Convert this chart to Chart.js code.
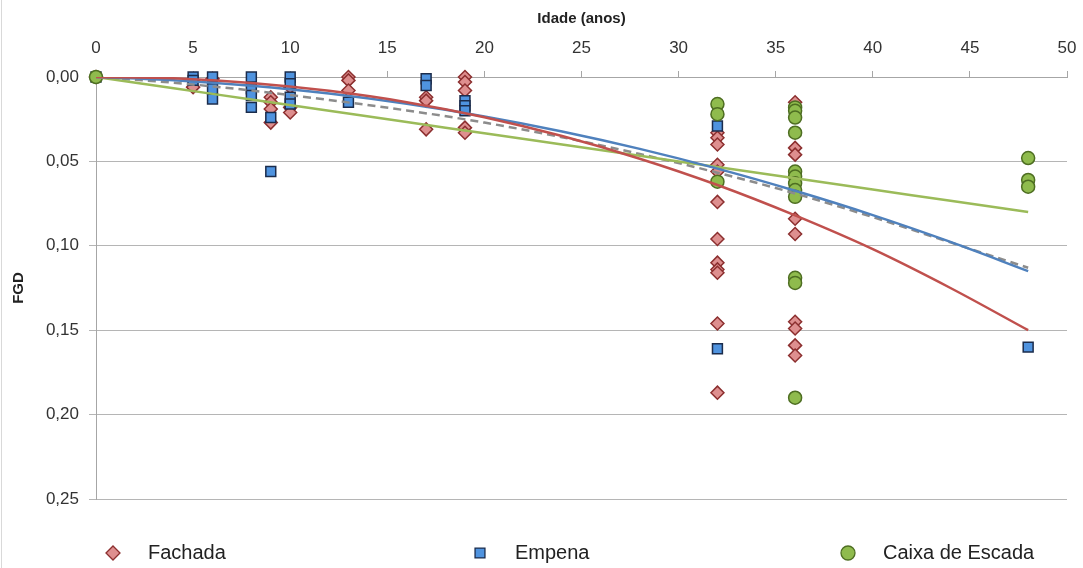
<!DOCTYPE html>
<html>
<head>
<meta charset="utf-8">
<script src="https://cdn.jsdelivr.net/npm/chart.js@4.4.0/dist/chart.umd.min.js"></script>
<style>
html, body { margin: 0; padding: 0; background: #fff; }
#caixa { position: relative; width: 1083px; height: 568px; }
</style>
</head>
<body>
<div id="caixa"><canvas id="grafico" width="1083" height="568"></canvas></div>
<script>
// pontos medidos (idade em anos, FGD)
var fachadaIdade = [0, 5, 5, 6, 9, 9, 9, 9, 10, 10, 10, 13, 13, 13, 17, 17, 17, 19, 19, 19, 19, 19,
  32, 32, 32, 32, 32, 32, 32, 32, 32, 32, 32, 32,
  36, 36, 36, 36, 36, 36, 36, 36, 36]
var fachadaFGD = [0, 0.002, 0.006, 0.001, 0.012, 0.015, 0.019, 0.027, 0.006, 0.018, 0.021, 0, 0.002, 0.008, 0.012, 0.014, 0.031, 0, 0.003, 0.008, 0.030, 0.033,
  0.033, 0.036, 0.040, 0.052, 0.056, 0.074, 0.096, 0.110, 0.114, 0.116, 0.146, 0.187,
  0.015, 0.042, 0.046, 0.084, 0.093, 0.145, 0.149, 0.159, 0.165]

var empenaIdade = [0, 5, 5, 6, 6, 6, 8, 8, 8, 8, 9, 9, 10, 10, 10, 10, 13, 17, 17, 19, 19, 19, 32, 32, 48]
var empenaFGD = [0, 0, 0.002, 0, 0.007, 0.013, 0, 0.007, 0.011, 0.018, 0.024, 0.056, 0, 0.004, 0.012, 0.016, 0.015, 0.001, 0.005, 0.014, 0.017, 0.020, 0.029, 0.161, 0.160]

var caixaIdade = [0, 32, 32, 32, 36, 36, 36, 36, 36, 36, 36, 36, 36, 36, 36, 36, 48, 48, 48]
var caixaFGD = [0, 0.016, 0.022, 0.062, 0.018, 0.020, 0.024, 0.033, 0.056, 0.059, 0.063, 0.067, 0.071, 0.119, 0.122, 0.190, 0.048, 0.061, 0.065]

// linhas de tendencia
var tendIdade = [0, 4, 8, 12, 16, 20, 24, 28, 32, 36, 40, 44, 48]
var tendFachada = [0, 0.0008, 0.0035, 0.0082, 0.0149, 0.0238, 0.035, 0.0484, 0.064, 0.082, 0.102, 0.125, 0.150]
var tendEmpena = [0, 0.0019, 0.0052, 0.0098, 0.0159, 0.0234, 0.0323, 0.0426, 0.0543, 0.0674, 0.0818, 0.0977, 0.115]
var tendCaixa = [0, 0.0067, 0.0133, 0.020, 0.0267, 0.0333, 0.040, 0.0467, 0.0533, 0.060, 0.0667, 0.0733, 0.080]
var tendGeral = [0, 0.0034, 0.008, 0.0136, 0.0198, 0.027, 0.0357, 0.0456, 0.0567, 0.069, 0.083, 0.098, 0.113]

var eixoX = [0, 5, 10, 15, 20, 25, 30, 35, 40, 45, 50]
var eixoY = [0, 0.05, 0.10, 0.15, 0.20, 0.25]

var fonte = '"Liberation Sans", "DejaVu Sans", sans-serif'

function pares(xs, ys) {
  return xs.map(function (x, i) { return { x: x, y: ys[i] } })
}

function serieTend(ys, cor, tracejado) {
  return {
    type: 'line',
    data: pares(tendIdade, ys),
    borderColor: cor,
    borderWidth: 2.5,
    borderDash: tracejado ? [8, 5] : [],
    pointRadius: 0,
    fill: false,
    showLine: true,
    cubicInterpolationMode: 'monotone',
    order: 0
  }
}

var legendaBaixo = {
  id: 'legendaBaixo',
  beforeDraw: function (chart) {
    var ctx = chart.ctx
    ctx.save()
    ctx.strokeStyle = '#d9d9d9'
    ctx.lineWidth = 1
    ctx.beginPath()
    ctx.moveTo(1.5, 0)
    ctx.lineTo(1.5, chart.height)
    ctx.stroke()
    ctx.restore()
  },
  afterDraw: function (chart) {
    var ctx = chart.ctx
    var posX = [113, 480, 848]
    var y = 553
    ctx.save()
    ctx.font = '20px ' + fonte
    ctx.textBaseline = 'middle'
    ctx.textAlign = 'left'
    for (var i = 0; i < 3; i++) {
      var ds = chart.data.datasets[i]
      ctx.fillStyle = ds.backgroundColor
      ctx.strokeStyle = ds.borderColor
      ctx.lineWidth = 1.3
      Chart.helpers.drawPoint(ctx, { pointStyle: ds.pointStyle, radius: 7, borderWidth: 1.3, rotation: 0 }, posX[i], y)
      ctx.fillStyle = '#222'
      ctx.fillText(ds.label, posX[i] + 35, y)
    }
    ctx.restore()
  }
}

new Chart(document.getElementById('grafico'), {
  type: 'scatter',
  data: {
    datasets: [
      {
        label: 'Fachada',
        data: pares(fachadaIdade, fachadaFGD),
        pointStyle: 'rectRot',
        pointRadius: 6.5,
        backgroundColor: '#de8f8f',
        borderColor: '#8c2f2f',
        borderWidth: 1.5,
        clip: false,
        order: 3
      },
      {
        label: 'Empena',
        data: pares(empenaIdade, empenaFGD),
        pointStyle: 'rect',
        pointRadius: 7,
        backgroundColor: '#4f93df',
        borderColor: '#1b2c4c',
        borderWidth: 1.5,
        clip: false,
        order: 2
      },
      {
        label: 'Caixa de Escada',
        data: pares(caixaIdade, caixaFGD),
        pointStyle: 'circle',
        pointRadius: 6.5,
        backgroundColor: '#8fbb4d',
        borderColor: '#4e6e22',
        borderWidth: 1.5,
        clip: false,
        order: 1
      },
      serieTend(tendFachada, '#c0504d', false),
      serieTend(tendEmpena, '#4f81bd', false),
      serieTend(tendCaixa, '#9bbb59', false),
      serieTend(tendGeral, '#8c8c8c', true)
    ]
  },
  options: {
    responsive: false,
    animation: false,
    layout: { padding: { left: 0, right: 16, top: 0, bottom: 69 } },
    plugins: {
      legend: { display: false },
      tooltip: { enabled: false }
    },
    scales: {
      x: {
        type: 'linear',
        position: 'top',
        min: 0,
        max: 50,
        afterBuildTicks: function (s) { s.ticks = eixoX.map(function (v) { return { value: v } }) },
        afterFit: function (s) { s.height = 77; s.paddingLeft = 0; s.paddingRight = 0 },
        ticks: { font: { family: fonte, size: 17 }, color: '#333', padding: 12 },
        grid: { drawOnChartArea: false, drawTicks: true, tickLength: 6, color: '#a6a6a6' },
        border: { color: '#a6a6a6' },
        title: { display: true, text: 'Idade (anos)', font: { family: fonte, size: 15, weight: 'bold' }, color: '#222', padding: { top: 10, bottom: 4 } }
      },
      y: {
        type: 'linear',
        reverse: true,
        min: 0,
        max: 0.25,
        afterBuildTicks: function (s) { s.ticks = eixoY.map(function (v) { return { value: v } }) },
        afterFit: function (s) { s.width = 96; s.paddingTop = 0; s.paddingBottom = 0 },
        ticks: {
          font: { family: fonte, size: 17 },
          color: '#333',
          padding: 10,
          callback: function (v) { return v.toFixed(2).replace('.', ',') }
        },
        grid: { color: '#b5b5b5', tickLength: 7 },
        border: { color: '#a6a6a6' },
        title: { display: true, text: 'FGD', font: { family: fonte, size: 15, weight: 'bold' }, color: '#222', padding: { top: 10, bottom: 4 } }
      }
    }
  },
  plugins: [legendaBaixo]
})
</script>
</body>
</html>
